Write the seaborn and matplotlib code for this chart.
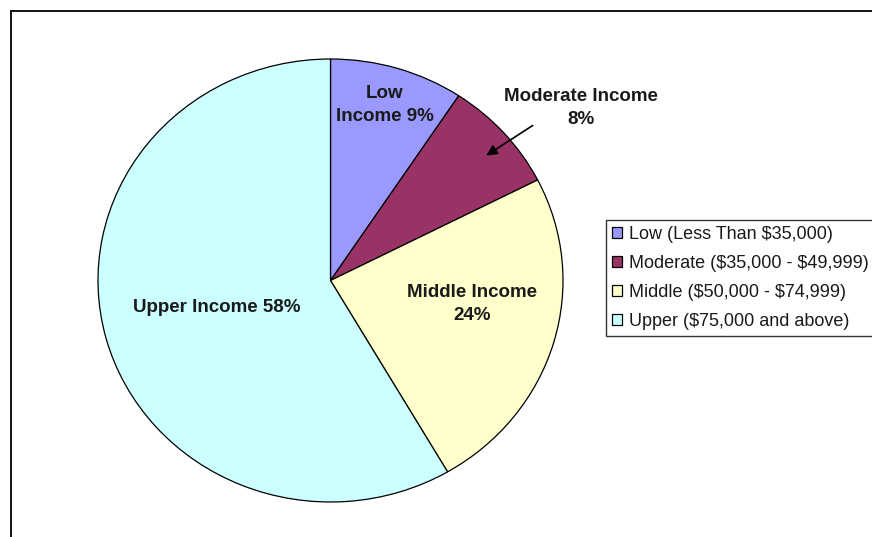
import matplotlib
matplotlib.use("Agg")
import matplotlib.pyplot as plt
import seaborn as sns
from matplotlib.lines import Line2D

categories = ["Low", "Moderate", "Middle", "Upper"]
shares = [9.3, 8.2, 24.1, 58.4]
slice_labels = ["Low\nIncome 9%", "Moderate Income\n8%", "Middle Income\n24%", "Upper Income 58%"]
legend_labels = ["Low (Less Than $35,000)", "Moderate ($35,000 - $49,999)",
                 "Middle ($50,000 - $74,999)", "Upper ($75,000 and above)"]
colors = sns.color_palette(["#9999FF", "#993366", "#FFFFCC", "#CCFFFF"])

sns.set_theme(style="white")
plt.rcParams['font.family'] = ['Liberation Sans', 'DejaVu Sans']
plt.rcParams['text.parse_math'] = False

fig = plt.figure(figsize=(8.72, 5.37), dpi=100)
W, H = 872, 537

# pie axes (slightly elliptical as in reference)
left, right, top, bottom = 98, 563, 59, 502
ax = fig.add_axes([left / W, 1 - bottom / H, (right - left) / W, (bottom - top) / H])
wedges, _ = ax.pie(shares, colors=colors, startangle=90, counterclock=False,
                   wedgeprops=dict(edgecolor="black", linewidth=0.9))
ax.set_aspect('auto')
ax.set_xlim(-1, 1)
ax.set_ylim(-1, 1)
ax.axis('off')

def fx(px):
    return (px - (left + right) / 2) / ((right - left) / 2)

def fy(py):
    return ((top + bottom) / 2 - py) / ((bottom - top) / 2)

lab_kw = dict(fontsize=13.5, fontweight='bold', color='#1a1a1a', ha='center', va='center',
              linespacing=1.4)
ax.text(fx(385), fy(105), slice_labels[0], **lab_kw)
ax.text(fx(581), fy(108), slice_labels[1], **lab_kw)
ax.text(fx(472), fy(304), slice_labels[2], **lab_kw)
ax.text(fx(217), fy(307), slice_labels[3], **lab_kw)
ax.annotate("", xy=(fx(484), fy(157)), xytext=(fx(535), fy(124)),
            arrowprops=dict(arrowstyle="-|>", color="black", lw=1.2, mutation_scale=16),
            annotation_clip=False)

# outer frame (top and left edges visible)
fig.add_artist(Line2D([11 / W, 1.01], [1 - 11 / H, 1 - 11 / H], transform=fig.transFigure,
                      color="black", lw=1.3))
fig.add_artist(Line2D([11 / W, 11 / W], [1 - 11 / H, -0.01], transform=fig.transFigure,
                      color="black", lw=1.3))

leg = fig.legend(wedges, legend_labels, loc="upper left",
                 bbox_to_anchor=(606 / W, 1 - 220 / H), bbox_transform=fig.transFigure,
                 fontsize=13, frameon=True, fancybox=False, shadow=False,
                 handlelength=0.55, handleheight=0.55, handletextpad=0.4,
                 labelspacing=0.65, borderpad=0.35, borderaxespad=0)
leg.get_frame().set_edgecolor("black")
leg.get_frame().set_linewidth(1.0)
for t in leg.get_texts():
    t.set_color('#1a1a1a')

fig.savefig("out.png", dpi=100)
